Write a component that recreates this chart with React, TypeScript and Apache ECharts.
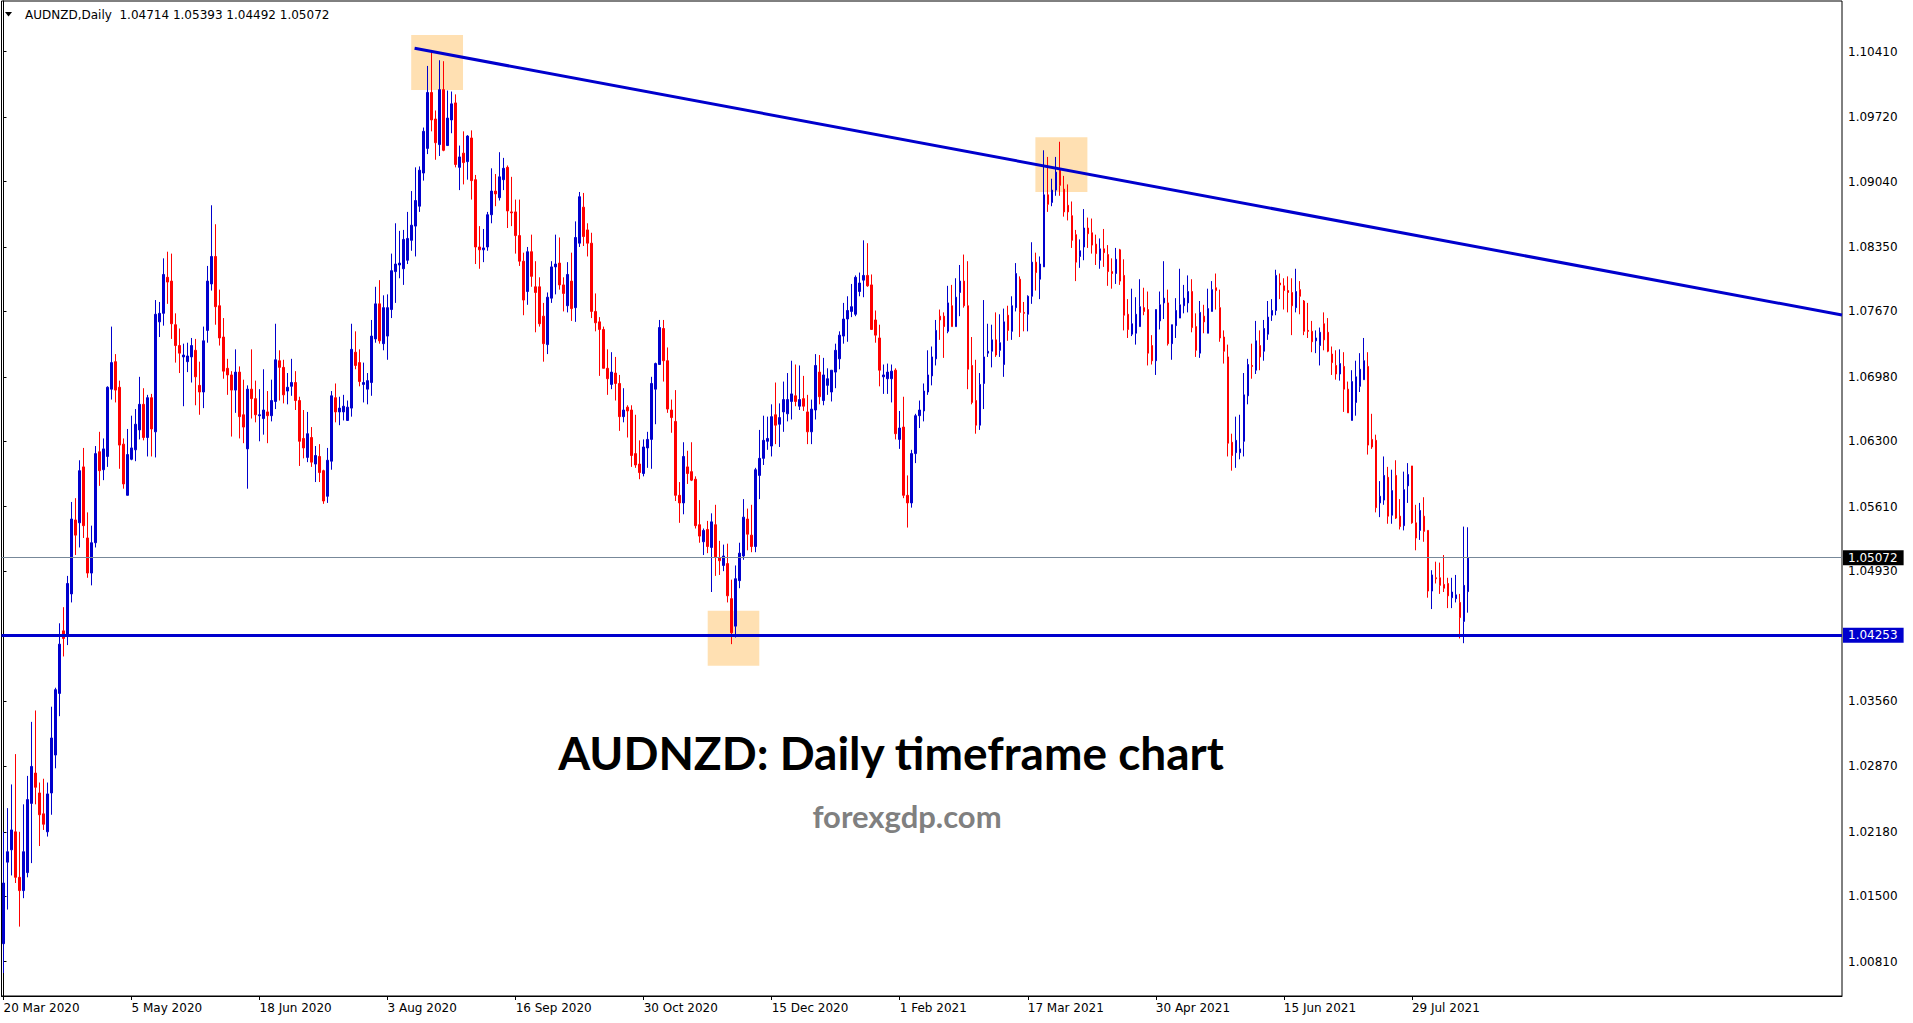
import React, { useEffect, useRef } from "react";
import * as echarts from "echarts";

// ---- Daily OHLC bars, 20 Mar 2020 .. 18 Aug 2021 ----
const OPEN = [
  1.0100, 1.0186, 1.0199, 1.0218, 1.0170, 1.0156, 1.0175, 1.0248, 1.0280, 1.0259,
  1.0237, 1.0218, 1.0259, 1.0299, 1.0364, 1.0430, 1.0424, 1.0469, 1.0547, 1.0544,
  1.0603, 1.0528, 1.0491, 1.0523, 1.0619, 1.0600, 1.0614, 1.0685, 1.0714, 1.0687,
  1.0627, 1.0573, 1.0611, 1.0621, 1.0642, 1.0669, 1.0634, 1.0676, 1.0640, 1.0756,
  1.0765, 1.0803, 1.0799, 1.0753, 1.0731, 1.0719, 1.0714, 1.0719, 1.0726, 1.0689,
  1.0682, 1.0747, 1.0796, 1.0825, 1.0773, 1.0740, 1.0707, 1.0700, 1.0684, 1.0703,
  1.0658, 1.0622, 1.0685, 1.0675, 1.0657, 1.0654, 1.0661, 1.0657, 1.0672, 1.0715,
  1.0708, 1.0683, 1.0688, 1.0692, 1.0673, 1.0633, 1.0613, 1.0634, 1.0606, 1.0614,
  1.0599, 1.0572, 1.0609, 1.0676, 1.0661, 1.0661, 1.0652, 1.0665, 1.0724, 1.0713,
  1.0690, 1.0685, 1.0692, 1.0738, 1.0775, 1.0733, 1.0741, 1.0769, 1.0809, 1.0816,
  1.0812, 1.0821, 1.0842, 1.0857, 1.0878, 1.0913, 1.0939, 1.0998, 1.0970, 1.0943,
  1.1001, 1.0942, 1.0969, 1.0987, 1.0919, 1.0934, 1.0925, 1.0950, 1.0906, 1.0835,
  1.0832, 1.0835, 1.0869, 1.0894, 1.0887, 1.0906, 1.0919, 1.0872, 1.0872, 1.0847,
  1.0820, 1.0788, 1.0830, 1.0793, 1.0793, 1.0762, 1.0732, 1.0781, 1.0814, 1.0818,
  1.0795, 1.0773, 1.0799, 1.0771, 1.0839, 1.0877, 1.0853, 1.0839, 1.0767, 1.0756,
  1.0748, 1.0707, 1.0690, 1.0702, 1.0691, 1.0656, 1.0666, 1.0663, 1.0617, 1.0606,
  1.0596, 1.0623, 1.0632, 1.0685, 1.0711, 1.0749, 1.0715, 1.0663, 1.0651, 1.0573,
  1.0565, 1.0603, 1.0598, 1.0590, 1.0542, 1.0524, 1.0537, 1.0518, 1.0542, 1.0507,
  1.0499, 1.0501, 1.0464, 1.0435, 1.0483, 1.0509, 1.0548, 1.0531, 1.0519, 1.0594,
  1.0612, 1.0630, 1.0625, 1.0658, 1.0648, 1.0661, 1.0659, 1.0672, 1.0678, 1.0667,
  1.0675, 1.0661, 1.0640, 1.0663, 1.0703, 1.0673, 1.0689, 1.0682, 1.0703, 1.0717,
  1.0741, 1.0759, 1.0767, 1.0764, 1.0788, 1.0800, 1.0805, 1.0795, 1.0758, 1.0739,
  1.0698, 1.0696, 1.0696, 1.0705, 1.0632, 1.0645, 1.0573, 1.0565, 1.0617, 1.0657,
  1.0662, 1.0682, 1.0699, 1.0717, 1.0762, 1.0762, 1.0746, 1.0773, 1.0751, 1.0787,
  1.0799, 1.0773, 1.0710, 1.0673, 1.0647, 1.0691, 1.0723, 1.0725, 1.0737, 1.0726,
  1.0711, 1.0763, 1.0746, 1.0771, 1.0801, 1.0766, 1.0764, 1.0783, 1.0819, 1.0801,
  1.0814, 1.0890, 1.0882, 1.0895, 1.0916, 1.0896, 1.0879, 1.0868, 1.0848, 1.0825,
  1.0835, 1.0855, 1.0850, 1.0838, 1.0821, 1.0833, 1.0827, 1.0809, 1.0807, 1.0832,
  1.0805, 1.0764, 1.0743, 1.0744, 1.0751, 1.0771, 1.0769, 1.0731, 1.0715, 1.0757,
  1.0776, 1.0776, 1.0733, 1.0752, 1.0760, 1.0773, 1.0776, 1.0788, 1.0751, 1.0723,
  1.0762, 1.0744, 1.0767, 1.0792, 1.0771, 1.0740, 1.0719, 1.0629, 1.0618, 1.0618,
  1.0630, 1.0678, 1.0710, 1.0705, 1.0731, 1.0725, 1.0743, 1.0763, 1.0768, 1.0797,
  1.0794, 1.0789, 1.0787, 1.0771, 1.0790, 1.0778, 1.0747, 1.0746, 1.0736, 1.0731,
  1.0754, 1.0745, 1.0722, 1.0710, 1.0701, 1.0709, 1.0685, 1.0652, 1.0671, 1.0688,
  1.0695, 1.0709, 1.0632, 1.0631, 1.0565, 1.0568, 1.0592, 1.0552, 1.0594, 1.0551,
  1.0541, 1.0583, 1.0604, 1.0544, 1.0536, 1.0551, 1.0536, 1.0472, 1.0486, 1.0486,
  1.0479, 1.0480, 1.0465, 1.0464, 1.0460, 1.0440, 1.04714,
];
const HIGH = [
  1.0218, 1.0243, 1.0268, 1.0300, 1.0218, 1.0247, 1.0277, 1.0334, 1.0346, 1.0270,
  1.0274, 1.0270, 1.0350, 1.0370, 1.0438, 1.0455, 1.0488, 1.0566, 1.0570, 1.0610,
  1.0623, 1.0555, 1.0541, 1.0625, 1.0640, 1.0633, 1.0688, 1.0751, 1.0722, 1.0694,
  1.0633, 1.0643, 1.0657, 1.0664, 1.0698, 1.0686, 1.0679, 1.0680, 1.0779, 1.0777,
  1.0823, 1.0830, 1.0828, 1.0765, 1.0749, 1.0733, 1.0734, 1.0739, 1.0738, 1.0714,
  1.0751, 1.0815, 1.0879, 1.0859, 1.0790, 1.0760, 1.0717, 1.0704, 1.0727, 1.0709,
  1.0695, 1.0689, 1.0727, 1.0694, 1.0685, 1.0706, 1.0683, 1.0695, 1.0754, 1.0726,
  1.0716, 1.0702, 1.0717, 1.0704, 1.0677, 1.0663, 1.0661, 1.0645, 1.0625, 1.0627,
  1.0600, 1.0623, 1.0683, 1.0691, 1.0677, 1.0679, 1.0673, 1.0754, 1.0746, 1.0727,
  1.0713, 1.0702, 1.0758, 1.0793, 1.0800, 1.0784, 1.0785, 1.0828, 1.0860, 1.0852,
  1.0853, 1.0872, 1.0894, 1.0919, 1.0920, 1.0961, 1.1026, 1.1041, 1.0979, 1.1032,
  1.1031, 1.1000, 1.0999, 1.0996, 1.0942, 1.0957, 1.0953, 1.0958, 1.0911, 1.0857,
  1.0854, 1.0872, 1.0918, 1.0912, 1.0935, 1.0929, 1.0921, 1.0909, 1.0885, 1.0885,
  1.0829, 1.0835, 1.0848, 1.0820, 1.0803, 1.0776, 1.0787, 1.0820, 1.0848, 1.0845,
  1.0803, 1.0819, 1.0829, 1.0862, 1.0893, 1.0892, 1.0860, 1.0850, 1.0786, 1.0761,
  1.0751, 1.0727, 1.0724, 1.0719, 1.0700, 1.0686, 1.0668, 1.0668, 1.0658, 1.0631,
  1.0632, 1.0640, 1.0698, 1.0713, 1.0758, 1.0758, 1.0729, 1.0674, 1.0684, 1.0587,
  1.0629, 1.0620, 1.0629, 1.0593, 1.0568, 1.0538, 1.0546, 1.0554, 1.0563, 1.0525,
  1.0521, 1.0522, 1.0484, 1.0499, 1.0523, 1.0569, 1.0559, 1.0563, 1.0602, 1.0642,
  1.0657, 1.0656, 1.0669, 1.0692, 1.0670, 1.0693, 1.0702, 1.0715, 1.0711, 1.0710,
  1.0699, 1.0679, 1.0674, 1.0722, 1.0721, 1.0718, 1.0707, 1.0705, 1.0733, 1.0746,
  1.0776, 1.0783, 1.0796, 1.0805, 1.0808, 1.0842, 1.0839, 1.0806, 1.0768, 1.0753,
  1.0711, 1.0712, 1.0711, 1.0707, 1.0662, 1.0677, 1.0594, 1.0621, 1.0659, 1.0673,
  1.0691, 1.0726, 1.0730, 1.0758, 1.0769, 1.0766, 1.0794, 1.0795, 1.0802, 1.0816,
  1.0827, 1.0820, 1.0740, 1.0716, 1.0702, 1.0779, 1.0754, 1.0753, 1.0766, 1.0764,
  1.0770, 1.0773, 1.0783, 1.0818, 1.0804, 1.0777, 1.0784, 1.0840, 1.0829, 1.0825,
  1.0937, 1.0930, 1.0907, 1.0930, 1.0946, 1.0910, 1.0901, 1.0883, 1.0853, 1.0843,
  1.0875, 1.0866, 1.0865, 1.0848, 1.0844, 1.0854, 1.0837, 1.0823, 1.0834, 1.0833,
  1.0822, 1.0780, 1.0791, 1.0782, 1.0801, 1.0792, 1.0788, 1.0742, 1.0769, 1.0788,
  1.0820, 1.0790, 1.0753, 1.0781, 1.0812, 1.0795, 1.0805, 1.0801, 1.0765, 1.0778,
  1.0774, 1.0791, 1.0799, 1.0807, 1.0790, 1.0747, 1.0732, 1.0638, 1.0656, 1.0658,
  1.0702, 1.0717, 1.0733, 1.0757, 1.0747, 1.0758, 1.0778, 1.0780, 1.0811, 1.0807,
  1.0802, 1.0804, 1.0802, 1.0812, 1.0799, 1.0779, 1.0776, 1.0757, 1.0747, 1.0750,
  1.0766, 1.0760, 1.0730, 1.0726, 1.0727, 1.0724, 1.0693, 1.0705, 1.0715, 1.0723,
  1.0739, 1.0724, 1.0659, 1.0637, 1.0588, 1.0614, 1.0603, 1.0600, 1.0610, 1.0569,
  1.0598, 1.0607, 1.0604, 1.0563, 1.0565, 1.0571, 1.0536, 1.0494, 1.0503, 1.0502,
  1.0510, 1.0486, 1.0486, 1.0489, 1.0469, 1.0540, 1.05393,
];
const LOW = [
  1.0069, 1.0136, 1.0172, 1.0164, 1.0118, 1.0148, 1.0170, 1.0185, 1.0247, 1.0203,
  1.0220, 1.0213, 1.0236, 1.0285, 1.0340, 1.0403, 1.0415, 1.0460, 1.0510, 1.0518,
  1.0528, 1.0486, 1.0478, 1.0518, 1.0583, 1.0589, 1.0603, 1.0674, 1.0671, 1.0601,
  1.0580, 1.0573, 1.0610, 1.0609, 1.0632, 1.0631, 1.0614, 1.0614, 1.0613, 1.0740,
  1.0752, 1.0775, 1.0738, 1.0713, 1.0702, 1.0667, 1.0703, 1.0692, 1.0668, 1.0658,
  1.0665, 1.0734, 1.0789, 1.0753, 1.0731, 1.0696, 1.0679, 1.0635, 1.0660, 1.0633,
  1.0628, 1.0580, 1.0654, 1.0650, 1.0630, 1.0637, 1.0628, 1.0651, 1.0664, 1.0673,
  1.0670, 1.0669, 1.0678, 1.0663, 1.0604, 1.0612, 1.0608, 1.0603, 1.0587, 1.0587,
  1.0564, 1.0565, 1.0600, 1.0650, 1.0647, 1.0652, 1.0652, 1.0656, 1.0706, 1.0688,
  1.0671, 1.0669, 1.0678, 1.0734, 1.0733, 1.0726, 1.0716, 1.0760, 1.0776, 1.0802,
  1.0795, 1.0817, 1.0831, 1.0825, 1.0872, 1.0905, 1.0933, 1.0957, 1.0927, 1.0931,
  1.0936, 1.0942, 1.0955, 1.0919, 1.0895, 1.0901, 1.0906, 1.0885, 1.0817, 1.0812,
  1.0819, 1.0831, 1.0860, 1.0878, 1.0884, 1.0895, 1.0855, 1.0857, 1.0828, 1.0815,
  1.0763, 1.0774, 1.0793, 1.0745, 1.0751, 1.0714, 1.0722, 1.0776, 1.0785, 1.0790,
  1.0767, 1.0766, 1.0757, 1.0756, 1.0835, 1.0836, 1.0825, 1.0760, 1.0746, 1.0699,
  1.0707, 1.0679, 1.0685, 1.0673, 1.0641, 1.0650, 1.0634, 1.0603, 1.0602, 1.0590,
  1.0593, 1.0602, 1.0601, 1.0648, 1.0711, 1.0693, 1.0660, 1.0639, 1.0567, 1.0544,
  1.0553, 1.0585, 1.0588, 1.0538, 1.0523, 1.0510, 1.0512, 1.0471, 1.0488, 1.0489,
  1.0493, 1.0460, 1.0416, 1.0423, 1.0475, 1.0505, 1.0515, 1.0513, 1.0513, 1.0569,
  1.0605, 1.0621, 1.0614, 1.0627, 1.0624, 1.0640, 1.0651, 1.0653, 1.0667, 1.0663,
  1.0662, 1.0627, 1.0627, 1.0653, 1.0669, 1.0668, 1.0679, 1.0672, 1.0686, 1.0706,
  1.0733, 1.0735, 1.0761, 1.0762, 1.0783, 1.0782, 1.0793, 1.0748, 1.0734, 1.0688,
  1.0680, 1.0680, 1.0671, 1.0632, 1.0622, 1.0570, 1.0539, 1.0560, 1.0607, 1.0644,
  1.0651, 1.0679, 1.0689, 1.0710, 1.0737, 1.0718, 1.0744, 1.0751, 1.0751, 1.0762,
  1.0771, 1.0685, 1.0669, 1.0638, 1.0642, 1.0664, 1.0719, 1.0708, 1.0719, 1.0719,
  1.0698, 1.0736, 1.0737, 1.0767, 1.0740, 1.0746, 1.0746, 1.0775, 1.0789, 1.0780,
  1.0814, 1.0872, 1.0878, 1.0889, 1.0889, 1.0867, 1.0863, 1.0834, 1.0799, 1.0813,
  1.0821, 1.0834, 1.0828, 1.0816, 1.0812, 1.0814, 1.0794, 1.0791, 1.0796, 1.0795,
  1.0747, 1.0739, 1.0741, 1.0732, 1.0751, 1.0763, 1.0710, 1.0711, 1.0700, 1.0748,
  1.0759, 1.0731, 1.0716, 1.0739, 1.0760, 1.0765, 1.0766, 1.0745, 1.0719, 1.0718,
  1.0744, 1.0744, 1.0767, 1.0769, 1.0735, 1.0712, 1.0614, 1.0599, 1.0602, 1.0611,
  1.0614, 1.0669, 1.0696, 1.0701, 1.0705, 1.0715, 1.0737, 1.0757, 1.0763, 1.0780,
  1.0769, 1.0766, 1.0742, 1.0766, 1.0764, 1.0742, 1.0739, 1.0724, 1.0723, 1.0710,
  1.0726, 1.0724, 1.0700, 1.0695, 1.0694, 1.0661, 1.0660, 1.0652, 1.0657, 1.0682,
  1.0695, 1.0616, 1.0622, 1.0555, 1.0550, 1.0563, 1.0543, 1.0543, 1.0548, 1.0537,
  1.0536, 1.0565, 1.0543, 1.0515, 1.0526, 1.0524, 1.0465, 1.0453, 1.0480, 1.0469,
  1.0471, 1.0454, 1.0454, 1.0460, 1.0422, 1.0417, 1.04492,
];
const CLOSE = [
  1.0164, 1.0197, 1.0220, 1.0170, 1.0156, 1.0197, 1.0252, 1.0287, 1.0265, 1.0236,
  1.0226, 1.0258, 1.0317, 1.0368, 1.0416, 1.0422, 1.0480, 1.0548, 1.0531, 1.0599,
  1.0541, 1.0491, 1.0523, 1.0617, 1.0599, 1.0622, 1.0687, 1.0713, 1.0684, 1.0626,
  1.0585, 1.0616, 1.0623, 1.0648, 1.0669, 1.0634, 1.0676, 1.0643, 1.0764, 1.0765,
  1.0806, 1.0798, 1.0754, 1.0731, 1.0723, 1.0721, 1.0720, 1.0731, 1.0698, 1.0682,
  1.0736, 1.0799, 1.0825, 1.0772, 1.0739, 1.0704, 1.0700, 1.0684, 1.0703, 1.0656,
  1.0645, 1.0685, 1.0675, 1.0658, 1.0658, 1.0663, 1.0657, 1.0673, 1.0716, 1.0708,
  1.0679, 1.0687, 1.0692, 1.0673, 1.0630, 1.0623, 1.0638, 1.0608, 1.0615, 1.0597,
  1.0567, 1.0610, 1.0678, 1.0661, 1.0665, 1.0667, 1.0666, 1.0727, 1.0710, 1.0693,
  1.0692, 1.0694, 1.0741, 1.0775, 1.0736, 1.0771, 1.0771, 1.0810, 1.0817, 1.0818,
  1.0843, 1.0844, 1.0858, 1.0884, 1.0916, 1.0957, 1.0998, 1.0969, 1.0945, 1.1001,
  1.0937, 1.0971, 1.0986, 1.0922, 1.0930, 1.0924, 1.0952, 1.0905, 1.0835, 1.0832,
  1.0834, 1.0869, 1.0894, 1.0891, 1.0909, 1.0918, 1.0873, 1.0871, 1.0847, 1.0820,
  1.0779, 1.0830, 1.0804, 1.0787, 1.0754, 1.0733, 1.0782, 1.0814, 1.0817, 1.0795,
  1.0786, 1.0806, 1.0770, 1.0845, 1.0888, 1.0846, 1.0839, 1.0767, 1.0755, 1.0748,
  1.0707, 1.0696, 1.0703, 1.0691, 1.0656, 1.0663, 1.0662, 1.0615, 1.0605, 1.0597,
  1.0624, 1.0632, 1.0691, 1.0712, 1.0750, 1.0715, 1.0664, 1.0655, 1.0573, 1.0565,
  1.0614, 1.0596, 1.0589, 1.0541, 1.0530, 1.0536, 1.0519, 1.0545, 1.0508, 1.0504,
  1.0509, 1.0467, 1.0428, 1.0485, 1.0512, 1.0550, 1.0532, 1.0519, 1.0600, 1.0612,
  1.0631, 1.0633, 1.0656, 1.0647, 1.0655, 1.0674, 1.0674, 1.0680, 1.0672, 1.0674,
  1.0667, 1.0640, 1.0664, 1.0710, 1.0677, 1.0700, 1.0696, 1.0705, 1.0726, 1.0742,
  1.0759, 1.0768, 1.0772, 1.0803, 1.0797, 1.0805, 1.0794, 1.0748, 1.0742, 1.0705,
  1.0700, 1.0703, 1.0704, 1.0638, 1.0644, 1.0573, 1.0565, 1.0617, 1.0657, 1.0663,
  1.0683, 1.0700, 1.0719, 1.0747, 1.0758, 1.0751, 1.0776, 1.0751, 1.0782, 1.0799,
  1.0773, 1.0706, 1.0671, 1.0647, 1.0690, 1.0719, 1.0725, 1.0737, 1.0721, 1.0734,
  1.0756, 1.0747, 1.0773, 1.0807, 1.0766, 1.0765, 1.0783, 1.0819, 1.0808, 1.0817,
  1.0890, 1.0880, 1.0895, 1.0914, 1.0900, 1.0872, 1.0872, 1.0842, 1.0819, 1.0831,
  1.0855, 1.0849, 1.0837, 1.0828, 1.0833, 1.0829, 1.0809, 1.0807, 1.0822, 1.0799,
  1.0763, 1.0748, 1.0754, 1.0764, 1.0772, 1.0767, 1.0723, 1.0715, 1.0769, 1.0774,
  1.0781, 1.0733, 1.0753, 1.0768, 1.0774, 1.0781, 1.0788, 1.0750, 1.0726, 1.0766,
  1.0756, 1.0770, 1.0790, 1.0789, 1.0739, 1.0725, 1.0628, 1.0615, 1.0631, 1.0622,
  1.0679, 1.0711, 1.0709, 1.0736, 1.0719, 1.0749, 1.0761, 1.0768, 1.0805, 1.0795,
  1.0789, 1.0787, 1.0773, 1.0788, 1.0783, 1.0746, 1.0746, 1.0735, 1.0739, 1.0745,
  1.0737, 1.0725, 1.0713, 1.0701, 1.0712, 1.0685, 1.0660, 1.0693, 1.0698, 1.0706,
  1.0715, 1.0626, 1.0624, 1.0560, 1.0572, 1.0594, 1.0551, 1.0578, 1.0549, 1.0540,
  1.0579, 1.0595, 1.0544, 1.0528, 1.0557, 1.0535, 1.0472, 1.0489, 1.0485, 1.0478,
  1.0475, 1.0467, 1.0471, 1.0468, 1.0444, 1.0478, 1.05072,
];

// ---- axis / annotation values ----
const X_TICK_LABELS = [
  "20 Mar 2020", "5 May 2020", "18 Jun 2020", "3 Aug 2020", "16 Sep 2020", "30 Oct 2020",
  "15 Dec 2020", "1 Feb 2021", "17 Mar 2021", "30 Apr 2021", "15 Jun 2021", "29 Jul 2021",
];
const BARS_PER_LABEL = 32;
const TOTAL_SLOTS = 460; // bar slots visible in the window (incl. empty right margin)
const Y_TICKS = [
  1.1041, 1.0972, 1.0904, 1.0835, 1.0767, 1.0698, 1.063, 1.0561, 1.0493,
  1.0356, 1.0287, 1.0218, 1.015, 1.0081,
];
const Y_MIN = 1.00448;
const Y_MAX = 1.10945;
const SUPPORT_PRICE = 1.04253;
const LAST_PRICE = 1.05072;
const HEADER = "AUDNZD,Daily  1.04714 1.05393 1.04492 1.05072";
// trend line: [bar index, price]
const TREND_LINE = [
  [102.75, 1.10446],
  [459.5, 1.07632],
];
// highlight boxes: [[barFrom, priceTop], [barTo, priceBottom]]
const HIGHLIGHTS = [
  [[101.9, 1.10586], [114.85, 1.10006]],
  [[176.0, 1.04513], [188.9, 1.03933]],
  [[257.9, 1.09507], [270.9, 1.0893]],
];

const BLUE = "#0000CD";
const RED = "#FF0000";
const FONT = "DejaVu Sans";

export default function App() {
  const ref = useRef<HTMLDivElement>(null);

  useEffect(() => {
    if (!ref.current) return;
    const chart = echarts.init(ref.current, undefined, { renderer: "svg" });

    const categories = Array.from({ length: TOTAL_SLOTS }, (_, i) => String(i));
    const candles = OPEN.map((o, i) => [o, CLOSE[i], LOW[i], HIGH[i]]);
    const isLabelIdx = (idx: number) =>
      idx % BARS_PER_LABEL === 0 && idx / BARS_PER_LABEL < X_TICK_LABELS.length;

    const priceLabel = (bg: string, value: number) => ({
      show: true,
      position: "end",
      distance: 1,
      formatter: () => value.toFixed(5),
      color: "#fff",
      backgroundColor: bg,
      padding: [2, 6, 1, 5],
      fontFamily: FONT,
      fontSize: 12,
    });

    const option: any = {
      animation: false,
      backgroundColor: "#ffffff",
      grid: {
        left: 1.5,
        right: 71,
        top: 1,
        bottom: 27,
        show: true,
        borderColor: "#000",
        borderWidth: 1,
        backgroundColor: "transparent",
      },
      xAxis: [
        {
          type: "category",
          data: categories,
          boundaryGap: true,
          axisLine: { show: true, lineStyle: { color: "#000", width: 1 } },
          axisTick: {
            show: true,
            alignWithLabel: true,
            interval: (idx: number) => isLabelIdx(idx),
            length: 4,
            lineStyle: { color: "#000" },
          },
          axisLabel: {
            show: true,
            interval: (idx: number) => isLabelIdx(idx),
            formatter: (_v: string, idx: number) =>
              isLabelIdx(idx) ? X_TICK_LABELS[idx / BARS_PER_LABEL] : "",
            align: "left",
            margin: 6,
            color: "#000",
            fontFamily: FONT,
            fontSize: 12,
          },
          splitLine: { show: false },
        },
        {
          type: "value",
          min: -0.5,
          max: TOTAL_SLOTS - 0.5,
          show: false,
        },
      ],
      yAxis: {
        type: "value",
        position: "right",
        min: Y_MIN,
        max: Y_MAX,
        scale: true,
        axisLine: { show: true, lineStyle: { color: "#000", width: 1 } },
        axisTick: {
          show: true,
          customValues: Y_TICKS,
          length: 3,
          lineStyle: { color: "#000" },
        },
        axisLabel: {
          show: true,
          customValues: Y_TICKS,
          formatter: (v: number) => v.toFixed(5),
          margin: 6,
          color: "#000",
          fontFamily: FONT,
          fontSize: 12,
        },
        splitLine: { show: false },
      },
      series: [
        {
          type: "candlestick",
          xAxisIndex: 0,
          yAxisIndex: 0,
          data: candles,
          barWidth: 2,
          z: 2,
          itemStyle: {
            color: BLUE,
            color0: RED,
            borderColor: BLUE,
            borderColor0: RED,
            borderWidth: 1,
          },
          markLine: {
            silent: true,
            symbol: ["none", "none"],
            precision: 5,
            animation: false,
            z: 5,
            data: [
              {
                yAxis: LAST_PRICE,
                lineStyle: { color: "#778899", width: 1, type: "solid" },
                label: priceLabel("#000", LAST_PRICE),
              },
              {
                yAxis: SUPPORT_PRICE,
                lineStyle: { color: BLUE, width: 3, type: "solid" },
                label: priceLabel(BLUE, SUPPORT_PRICE),
              },
            ],
          },
        },
        {
          type: "line",
          xAxisIndex: 1,
          yAxisIndex: 0,
          data: TREND_LINE,
          symbol: "none",
          z: 5,
          lineStyle: { color: BLUE, width: 3 },
          markArea: {
            silent: true,
            z: 1,
            itemStyle: { color: "#FFE0B2", opacity: 1 },
            data: HIGHLIGHTS.map(([a, b]) => [{ coord: a }, { coord: b }]),
          },
        },
      ],
      graphic: [
        {
          type: "polygon",
          shape: { points: [[5, 12], [12, 12], [8.5, 16.5]] },
          style: { fill: "#000" },
        },
        {
          type: "text",
          x: 25,
          y: 15,
          style: {
            text: HEADER,
            fill: "#000",
            font: `12px "${FONT}"`,
            textVerticalAlign: "middle",
          },
        },
        {
          type: "text",
          x: 891,
          y: 752,
          style: {
            text: "AUDNZD: Daily timeframe chart",
            fill: "#000",
            font: 'bold 46px "Lato"',
            textAlign: "center",
            textVerticalAlign: "middle",
          },
        },
        {
          type: "text",
          x: 907,
          y: 816,
          style: {
            text: "forexgdp.com",
            fill: "#808080",
            font: 'bold 31px "Lato"',
            textAlign: "center",
            textVerticalAlign: "middle",
          },
        },
      ],
    };

    chart.setOption(option);
    return () => chart.dispose();
  }, []);

  return (
    <div
      ref={ref}
      style={{ position: "fixed", left: 0, top: 0, width: 1913, height: 1023, background: "#fff" }}
    />
  );
}
